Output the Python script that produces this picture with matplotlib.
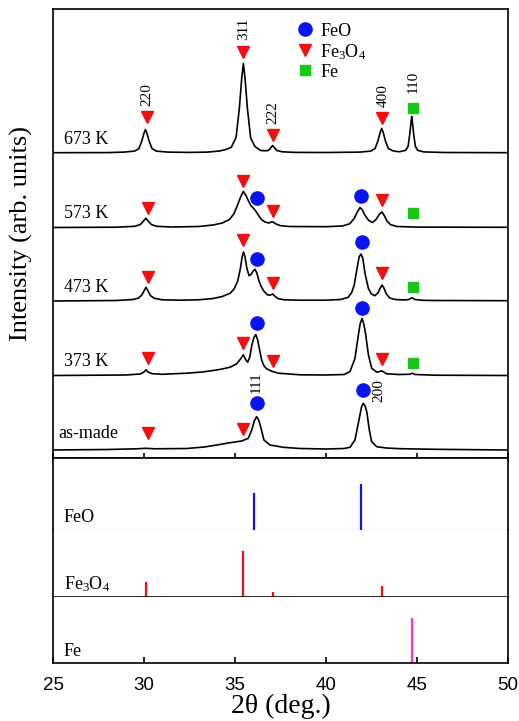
import matplotlib
matplotlib.use("Agg")
import matplotlib.pyplot as plt
import numpy as np

plt.rcParams['font.family'] = ['Liberation Serif', 'DejaVu Serif']
plt.rcParams['mathtext.fontset'] = 'custom'
plt.rcParams['mathtext.rm'] = 'Liberation Serif'
plt.rcParams['mathtext.it'] = 'Liberation Serif:italic'
plt.rcParams['mathtext.bf'] = 'Liberation Serif:bold'

# ---------------- data ----------------
sample_names = ['673 K', '573 K', '473 K', '373 K', 'as-made']
sample_offsets = [305, 230.5, 157, 82.5, 8]

x673 = [25.0, 28.0, 28.9, 29.48, 29.72, 29.88, 30.0, 30.08, 30.16, 30.28, 30.44, 30.68, 31.3, 32.5, 33.5,
        34.14, 34.5, 34.8, 35.06, 35.24, 35.37, 35.46, 35.55, 35.68, 35.86, 36.1, 36.4, 36.75, 36.9, 36.98,
        37.07, 37.16, 37.3, 37.6, 38.3, 40.0, 41.86, 42.46, 42.7, 42.86, 42.98, 43.06, 43.14, 43.26, 43.42,
        43.66, 43.85, 44.05, 44.38, 44.51, 44.6, 44.67, 44.71, 44.75, 44.82, 44.91, 45.04, 45.37, 46.5, 50.0]
y673 = [0.3, 0.4, 0.9, 1.9, 4.4, 12, 19.8, 23.5, 19.8, 12, 4.4, 1.9, 0.9, 0.6, 0.9,
        2, 3.5, 5.8, 15.6, 45, 75, 89.5, 75, 45, 15, 6.5, 2.5, 2.2, 3.5, 5.5,
        7.5, 5.5, 2.5, 1.2, 0.6, 0.5, 0.9, 1.9, 4.6, 12.5, 20.7, 24.5, 20.7, 12.5, 4.6,
        2.3, 1.6, 1.3, 2.7, 6.6, 18.5, 30.7, 36.5, 30.7, 18.5, 6.6, 2.7, 1.1, 0.5, 0.3]

x573 = [25.0, 28.5, 29.5, 29.8, 29.95, 30.1, 30.25, 30.4, 30.7, 31.5, 33.0, 33.8, 34.3, 34.7, 34.95,
        35.15, 35.32, 35.46, 35.6, 35.73, 35.87, 36.0, 36.12, 36.28, 36.45, 36.65, 36.85, 37.0, 37.1,
        37.25, 37.5, 38.0, 40.0, 40.9, 41.3, 41.55, 41.72, 41.87, 42.0, 42.15, 42.35, 42.55, 42.75,
        42.92, 43.07, 43.2, 43.35, 43.55, 43.9, 45.0, 50.0]
y573 = [0.0, 0.3, 1.2, 3, 6, 9.3, 6, 3, 1.2, 0.5, 1, 2.5, 4.5, 8, 14,
        23, 31, 36, 32, 27, 22, 19.5, 17, 12.5, 8, 5.5, 4.5, 5.5, 5.5,
        3.5, 1.8, 1, 0.8, 1.5, 3.7, 9, 15.5, 20, 17.5, 12, 7, 5, 8,
        13, 15.5, 12, 6.5, 2.8, 1, 0.4, 0.2]

x473 = [25.0, 28.5, 29.4, 29.7, 29.88, 30.0, 30.11, 30.22, 30.35, 30.55, 31.0, 32.0, 33.0, 33.8, 34.3,
        34.73, 34.95, 35.15, 35.3, 35.4, 35.47, 35.55, 35.65, 35.77, 35.9, 36.02, 36.1, 36.2, 36.32,
        36.45, 36.6, 36.8, 36.95, 37.07, 37.18, 37.35, 37.7, 38.5, 40.0, 40.8, 41.2, 41.4, 41.55, 41.7,
        41.82, 41.92, 42.02, 42.15, 42.33, 42.5, 42.68, 42.85, 42.98, 43.08, 43.18, 43.32, 43.5, 43.8,
        44.3, 44.55, 44.72, 44.88, 45.3, 46.0, 50.0]
y473 = [0.0, 0.5, 1.5, 3, 6, 10, 13.7, 10, 5.5, 2.8, 1.2, 0.8, 1.2, 2.5, 4.5,
        7.7, 12, 20, 33, 45, 49, 44, 33, 25.3, 27, 30.5, 31.7, 28, 20,
        14, 9.5, 6, 6, 7, 5, 2.5, 1.2, 0.8, 0.8, 1.5, 3.5, 8, 16, 32,
        44, 47, 43, 27, 12.5, 7, 5.3, 8, 13, 16, 13, 7, 3, 1.5,
        1, 1.5, 3.3, 1.5, 0.7, 0.5, 0.3]

x373 = [25.0, 29.0, 29.8, 30.0, 30.11, 30.22, 30.45, 31.0, 32.35, 33.2, 33.8, 34.3, 34.73, 35.09, 35.31,
        35.46, 35.58, 35.7, 35.82, 35.92, 36.04, 36.14, 36.24, 36.34, 36.47, 36.6, 36.74, 37.01, 37.38,
        38.57, 40.0, 41.0, 41.32, 41.59, 41.78, 41.88, 41.98, 42.07, 42.16, 42.33, 42.51, 42.79, 42.95,
        43.06, 43.17, 43.33, 44.0, 44.6, 44.74, 44.9, 46.0, 50.0]
y373 = [0.0, 0.5, 1.5, 3.5, 5.7, 3.5, 1.8, 1.2, 2.3, 3.5, 5, 6.5, 8.3, 11.7, 16.7,
        20.7, 16, 13.3, 19, 30, 38, 41, 36, 26.7, 15, 9.5, 6.7, 4.3, 2.3,
        0.7, 0.5, 1, 4, 17, 40.7, 52, 57, 52, 43.7, 20.7, 7.3, 3.3, 4,
        4.7, 3.5, 1.7, 1, 1.2, 2.3, 1, 0.3, 0.0]

x_asmade = [25.0, 28.0, 29.6, 30.1, 30.6, 32.35, 33.3, 34.0, 34.73, 35.37, 35.73, 35.92, 36.06, 36.19,
            36.3, 36.41, 36.59, 36.92, 37.65, 38.57, 40.0, 41.0, 41.32, 41.59, 41.83, 41.95, 42.05, 42.15,
            42.24, 42.38, 42.51, 42.79, 43.3, 44.07, 46.0, 50.0]
y_asmade = [0.0, 0.5, 1.2, 1.7, 1.2, 1.5, 3, 5, 7.3, 9, 11.7, 20, 29, 33.3,
            30, 23.3, 10, 5, 2.7, 1.5, 1, 1.5, 2.7, 10, 31.7, 43, 46.7, 44,
            38.3, 20, 8.3, 3.3, 2, 1.3, 0.7, 0.0]

spectra_x = [x673, x573, x473, x373, x_asmade]
spectra_y = [y673, y573, y473, y373, y_asmade]

# phase markers (2theta, height in top-panel units)
feo_mark_x = [41.92, 36.21, 41.96, 36.21, 41.96, 36.21, 42.05, 36.21]
feo_mark_y = [262.3, 260.3, 215.7, 198.7, 150.3, 134.7, 68, 54.7]
fe3o4_mark_x = [30.15, 35.44, 37.07, 43.09,
                30.20, 35.44, 37.07, 43.09,
                30.20, 35.44, 37.07, 43.09,
                30.20, 35.44, 37.07, 43.09,
                30.20, 35.44]
fe3o4_mark_y = [340.7, 405.7, 323, 339.7,
                250.3, 277, 247, 257.7,
                181.3, 218, 174.7, 185.3,
                99.7, 114.7, 97.3, 98.7,
                24.7, 28.7]
fe_mark_x = [44.76, 44.76, 44.76, 44.76]
fe_mark_y = [350.3, 244.7, 170.7, 95.3]

# Miller indices
hkl_labels = ['220', '311', '222', '400', '110', '111', '200']
hkl_x = [30.15, 35.46, 37.07, 43.15, 44.80, 36.19, 42.93]
hkl_y = [352, 418, 334, 350.7, 364.7, 64.7, 56.3]

# reference patterns
ref_names = ['FeO', 'Fe$_3$O$_4$', 'Fe']
ref_pos = [[36.06, 41.94], [30.11, 35.42, 37.09, 43.09], [44.73]]
ref_int = [[80, 100], [32, 100, 11, 23], [100]]
ref_colors = ['#1010F0', '#F01010', '#FF30D0']

xticks = [25, 30, 35, 40, 45, 50]

# ---------------- figure ----------------
W, H = 519, 721
fig = plt.figure(figsize=(W / 100, H / 100), dpi=100)
gs = fig.add_gridspec(4, 1, height_ratios=[449, 72, 67, 66], hspace=0,
                      left=53 / W, right=508 / W, top=1 - 9 / H, bottom=1 - 663 / H)
ax0 = fig.add_subplot(gs[0])
axes_ref = [fig.add_subplot(gs[i], sharex=ax0) for i in (1, 2, 3)]

lw_frame = 1.2
for ax in [ax0] + axes_ref:
    for sp in ax.spines.values():
        sp.set_linewidth(lw_frame)

# top panel
for xs, ys, off, name in zip(spectra_x, spectra_y, sample_offsets, sample_names):
    ax0.plot(xs, np.array(ys) + off, color='black', lw=1.2, solid_joinstyle='round')
    dy = 12 if name == 'as-made' else 9.5
    xl = 25.27 if name == 'as-made' else 25.6
    ax0.text(xl, off + dy, name, fontsize=13, ha='left', va='baseline')

h_feo, = ax0.plot(feo_mark_x, feo_mark_y, 'o', ls='none', color='#0A14F0', ms=9.5, label='FeO')
h_fe3o4, = ax0.plot(fe3o4_mark_x, fe3o4_mark_y, 'v', ls='none', color='#F01010', ms=9, label='Fe$_3$O$_4$')
h_fe, = ax0.plot(fe_mark_x, fe_mark_y, 's', ls='none', color='#18C818', ms=7.3, label='Fe')

for lab, hx, hy in zip(hkl_labels, hkl_x, hkl_y):
    ax0.text(hx, hy, lab, rotation=90, ha='center', va='bottom', fontsize=11)

leg = ax0.legend(handles=[h_feo, h_fe3o4, h_fe], loc='upper left', bbox_to_anchor=(0.538, 0.9696),
                 frameon=False, fontsize=13, handlelength=0.8, handletextpad=0.45,
                 labelspacing=0.12, borderpad=0, borderaxespad=0)

ax0.set_xlim(25, 50)
ax0.set_ylim(0, 449)
ax0.set_yticks([])
ax0.set_xticks(xticks)
ax0.tick_params(axis='x', direction='inout', length=7, width=lw_frame, labelbottom=False)
ax0.set_ylabel('Intensity (arb. units)', fontsize=19)
ax0.yaxis.set_label_coords(-0.045, 0.5)

# reference panels
ylims = [155, 145, 147]
for i, ax in enumerate(axes_ref):
    ax.vlines(ref_pos[i], 0, ref_int[i], color=ref_colors[i], lw=1.6)
    ax.set_ylim(0, ylims[i])
    ax.set_yticks([])
    ax.text(25.58, ylims[i] * 0.11, ref_names[i], fontsize=13, ha='left', va='baseline')
    if i < 2:
        ax.tick_params(axis='x', length=0, labelbottom=False)

axes_ref[0].spines['bottom'].set_color('#888888')
axes_ref[0].spines['bottom'].set_linewidth(0.8)
axes_ref[1].spines['top'].set_visible(False)
axes_ref[2].spines['top'].set_visible(False)
axes_ref[1].spines['bottom'].set_zorder(5)

ax3 = axes_ref[2]
ax3.tick_params(axis='x', direction='in', length=4.5, width=lw_frame, pad=10, labelsize=13.5)
for t in ax3.get_xticklabels():
    t.set_fontfamily(['Liberation Sans', 'DejaVu Sans'])
ax3.set_xlabel('2θ (deg.)', fontsize=20, labelpad=0)

fig.savefig('out.png', dpi=100)
